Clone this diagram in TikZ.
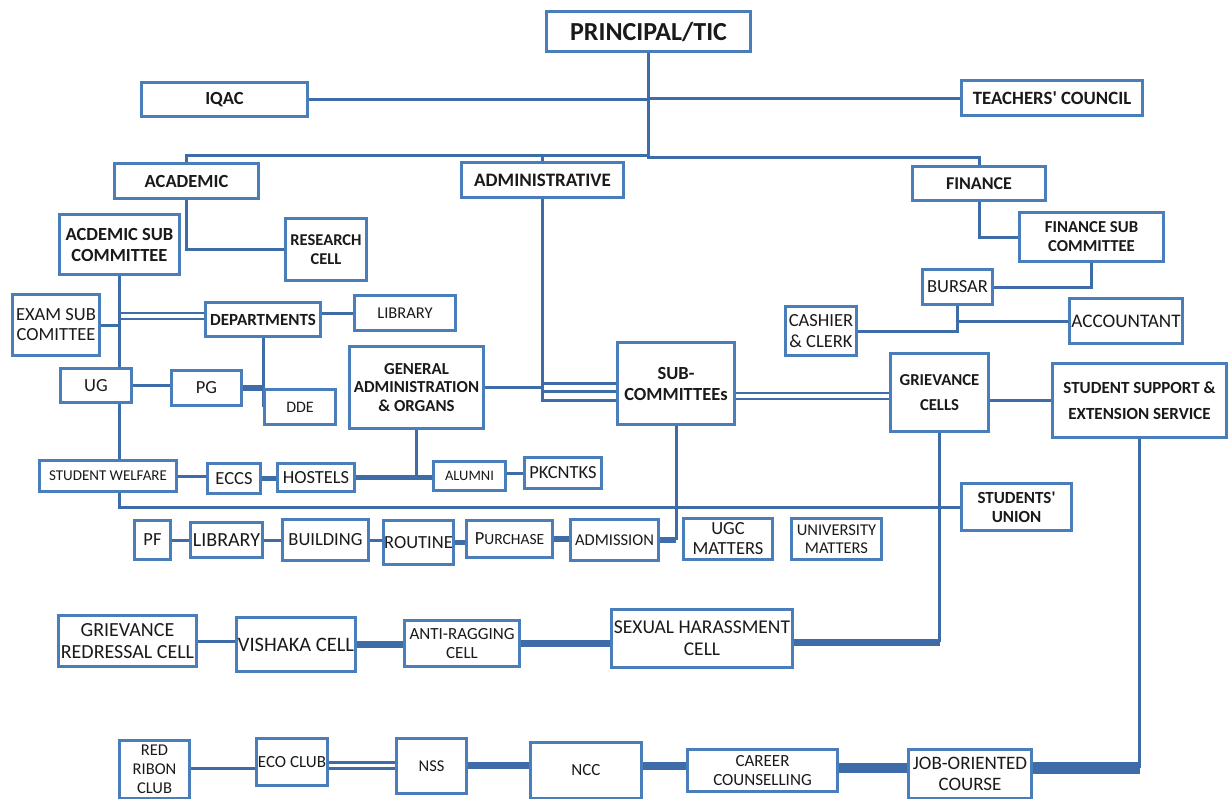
\documentclass[tikz,border=0pt]{standalone}
\usepackage{fontspec}
\setmainfont{Carlito}[Ligatures=TeXOff]
\usetikzlibrary{backgrounds}
\definecolor{boxblue}{RGB}{74,126,187}
\definecolor{lineblue}{RGB}{62,108,168}
\definecolor{txt}{RGB}{26,26,26}

\begin{document}
\begin{tikzpicture}[x=1pt,y=-1pt,
  bx/.style={draw=boxblue,line width=3pt,fill=white,text=txt,align=center,inner sep=1pt,
    font=\fontsize{18.5}{21}\selectfont},
  bxb/.style={bx,font=\fontsize{18.5}{21}\selectfont\bfseries},
  bxs/.style={bx,font=\fontsize{15}{18}\selectfont},
  sz/.style 2 args={minimum width=#1,minimum height=#2},
  ln/.style={draw=lineblue,line width=3pt},
  thk/.style={ln,line width=5.5pt},
  thkk/.style={ln,line width=7pt},
  hvy/.style={ln,line width=10pt},
  dbl/.style={draw=lineblue,line width=2.5pt,double=white,double distance=3.5pt}
]
\useasboundingbox (0,0) rectangle (1231,798);

\node[bxb,sz={204}{40},font=\fontsize{26}{28}\selectfont\bfseries] (prin) at (648.5,31.5) {PRINCIPAL/TIC};
\node[bxb,sz={166}{34}] (iqac) at (224.5,99.5) {IQAC};
\node[bxb,sz={181}{35},font=\fontsize{18.8}{21}\selectfont\bfseries] (tc) at (1052,98) {TEACHERS' COUNCIL};
\node[bxb,sz={144}{35}] (acad) at (186.5,181) {ACADEMIC};
\node[bxb,sz={162}{35},font=\fontsize{19}{21}\selectfont\bfseries] (admin) at (542.5,180) {ADMINISTRATIVE};
\node[bxb,sz={133}{34},font=\fontsize{18}{21}\selectfont\bfseries] (fin) at (979,183.5) {FINANCE};
\node[bxb,sz={120}{60}] (acsub) at (119.5,244.5) {ACDEMIC SUB\\COMMITTEE};
\node[bxb,sz={81}{62},font=\fontsize{16.5}{19}\selectfont\bfseries] (res) at (326,249.5) {RESEARCH\\CELL};
\node[bxb,sz={144}{49},font=\fontsize{16.7}{19}\selectfont\bfseries] (fsub) at (1091.5,237) {FINANCE SUB\\COMMITTEE};
\node[bx,sz={70}{35}] (bur) at (957.5,287) {BURSAR};
\node[bx,sz={71}{49}] (cash) at (821,331) {CASHIER\\\& CLERK};
\node[bx,sz={113}{45},font=\fontsize{19.2}{21}\selectfont] (acct) at (1126,321) {ACCOUNTANT};
\node[bx,sz={87}{61},font=\fontsize{18.5}{20}\selectfont] (exam) at (56,325) {EXAM SUB\\COMITTEE};
\node[bxb,sz={115}{34},font=\fontsize{17}{19}\selectfont\bfseries] (dept) at (263,319.5) {DEPARTMENTS};
\node[bx,sz={101}{35},font=\fontsize{16.5}{19}\selectfont] (lib1) at (405,313) {LIBRARY};
\node[bx,sz={71}{34}] (ug) at (96,385.5) {UG};
\node[bx,sz={70}{35}] (pg) at (206.5,388) {PG};
\node[bx,sz={71}{35},font=\fontsize{16}{19}\selectfont] (dde) at (300,407) {DDE};
\node[bxb,sz={134}{82},font=\fontsize{16.8}{18.5}\selectfont\bfseries] (ga) at (416.5,387.5) {GENERAL\\ADMINISTRATION\\\& ORGANS};
\node[bxs,sz={137}{31}] (sw) at (108,476) {STUDENT WELFARE};
\node[bx,sz={53}{30}] (ecc) at (234,478.5) {ECCS};
\node[bx,sz={77}{28}] (hos) at (316,477.5) {HOSTELS};
\node[bxs,sz={72}{29},font=\fontsize{14.5}{17}\selectfont] (alum) at (469.5,476) {ALUMNI};
\node[bx,sz={77}{31}] (pk) at (563,473) {PKCNTKS};
\node[bxb,sz={117}{82}] (sub) at (676,383.5) {SUB-\\COMMITTEEs};
\node[bxb,sz={98}{78},font=\fontsize{16.7}{25}\selectfont\bfseries] (griev) at (939.5,392.5) {GRIEVANCE\\CELLS};
\node[bxb,sz={174}{74},font=\fontsize{17}{26}\selectfont\bfseries] (sses) at (1139.5,400.5) {STUDENT SUPPORT \&\\EXTENSION SERVICE};
\node[bxb,sz={110}{47},font=\fontsize{17}{19}\selectfont\bfseries] (su) at (1016.5,507) {STUDENTS'\\UNION};

\node[bx,sz={36}{39}] (pf) at (152.5,540) {PF};
\node[bx,sz={72}{35},font=\fontsize{20}{22}\selectfont] (lib2) at (226.5,540) {LIBRARY};
\node[bx,sz={86}{41}] (bld) at (325.5,540) {BUILDING};
\node[bx,sz={70}{44}] (rout) at (418.5,542.5) {ROUTINE};
\node[bx,sz={86}{37}] (pur) at (509.5,539) {P{\fontsize{15.5}{18}\selectfont URCHASE}};
\node[bx,sz={88}{41},font=\fontsize{16.5}{19}\selectfont] (adm) at (614.5,540) {ADMISSION};
\node[bx,sz={89}{41},font=\fontsize{18.5}{20}\selectfont] (ugc) at (728,539) {UGC\\MATTERS};
\node[bx,sz={90}{41},font=\fontsize{16.5}{18}\selectfont] (univ) at (836.5,539) {UNIVERSITY\\MATTERS};

\node[bx,sz={138}{51},font=\fontsize{20}{22}\selectfont] (grc) at (127.5,641) {GRIEVANCE\\REDRESSAL CELL};
\node[bx,sz={119}{54},font=\fontsize{20.5}{23}\selectfont] (vis) at (296,644.5) {VISHAKA CELL};
\node[bx,sz={115}{46},font=\fontsize{17}{19}\selectfont] (anti) at (462,643.5) {ANTI-RAGGING\\CELL};
\node[bx,sz={181}{58},font=\fontsize{19.5}{22}\selectfont] (shc) at (702,638.5) {SEXUAL HARASSMENT\\CELL};

\node[bx,sz={70}{58},font=\fontsize{16.5}{19}\selectfont] (red) at (154.5,769.5) {RED\\RIBON\\CLUB};
\node[bx,sz={71}{47},font=\fontsize{17}{19}\selectfont] (eco) at (292,762) {ECO CLUB};
\node[bx,sz={70}{55},font=\fontsize{16.5}{19}\selectfont] (nss) at (431.5,766) {NSS};
\node[bx,sz={111}{56},font=\fontsize{17}{19}\selectfont] (ncc) at (586,770.5) {NCC};
\node[bx,sz={150}{42},font=\fontsize{17}{19}\selectfont] (car) at (762.5,770.5) {CAREER\\COUNSELLING};
\node[bx,sz={123}{49},font=\fontsize{19}{21}\selectfont] (job) at (970,774) {JOB-ORIENTED\\COURSE};

\coordinate (busL) at (648.5,155);
\coordinate (busR) at (648.5,157);
\coordinate (dd) at ([yshift=3.5pt]dept.west);
\coordinate (a2) at ([yshift=-8pt]sub.west);
\coordinate (a3) at ([yshift=-16.5pt]sub.west);
\coordinate (sg) at ([yshift=-3.5pt]griev.west);
\coordinate (sh) at ([yshift=-3.5pt]shc.east);
\coordinate (ch1) at (0,768);
\coordinate (ch2) at (0,765.5);

\begin{scope}[on background layer]
\draw[dbl] (dd) -- (dd -| acsub.south);
\draw[dbl] (sg) -- (sg -| sub.east);
\draw[dbl] (eco.east |- ch2) -- (nss.west |- ch2);
\draw[ln] (prin.south) -- (busR) -| (fin.north);
\draw[ln] (acad.north) |- (busL);
\draw[ln] (admin.north) -- (admin.north |- busL);
\draw[ln] (iqac.east) -- (iqac.east -| prin.south);
\draw[ln] (tc.west) -- (tc.west -| prin.south);
\draw[ln] (acad.south) |- (res.west);
\draw[ln] (acsub.south) -- (acsub.south |- sw.north);
\draw[ln] (exam.east) -- (exam.east -| acsub.south);
\draw[ln] (lib1.west) -- (lib1.west -| dept.east);
\draw[ln] (dept.south) -- (dept.south |- dde.west);
\draw[thk] (pg.east) -- (pg.east -| dept.south);
\draw[ln] (ug.east) -- (ug.east -| pg.west);
\draw[ln] (ga.east) -- (ga.east -| admin.south);
\draw[ln] (admin.south) |- (a3);
\draw[ln] (a2) -- (a2 -| admin.south);
\draw[ln] (sub.west) -- (sub.west -| admin.south);
\draw[ln] (sses.west) -- (sses.west -| griev.east);
\draw[ln] (ga.south) -- (ga.south |- alum.west);
\draw[thk] (hos.east) -- (hos.east -| alum.west);
\draw[ln] (sw.east) -- (sw.east -| ecc.west);
\draw[thk] (ecc.east) -- (ecc.east -| hos.west);
\draw[ln] (pk.west) -- (pk.west -| alum.east);
\draw[ln] (sw.south -| acsub.south) |- (su.west);
\draw[ln] (fin.south) |- (fsub.west);
\draw[ln] (fsub.south) |- (bur.east);
\draw[ln] (bur.south) |- (cash.east);
\draw[ln] (bur.south) |- (acct.west);
\draw[ln] (sub.south) -- (sub.south |- adm.east);
\draw[thk] (adm.east) -- (adm.east -| sub.south);
\draw[ln] (pf.east) -- (pf.east -| lib2.west);
\draw[ln] (lib2.east) -- (lib2.east -| bld.west);
\draw[ln] (bld.east) -- (bld.east -| rout.west);
\draw[thk] (rout.east) -- (rout.east -| pur.west);
\draw[thk] (pur.east) -- (pur.east -| adm.west);
\draw[ln] (griev.south) -- (griev.south |- sh);
\draw[thkk] (sh) -- (sh -| griev.south);
\draw[ln] (grc.east) -- (grc.east -| vis.west);
\draw[thkk] (vis.east) -- (vis.east -| anti.west);
\draw[thkk] (anti.east) -- (anti.east -| shc.west);
\draw[ln] (red.east |- ch1) -- (eco.west |- ch1);
\draw[thkk] (nss.east |- ch2) -- (ncc.west |- ch2);
\draw[thkk,line width=8pt] (ncc.east |- ch2) -- (car.west |- ch2);
\draw[hvy] (car.east |- ch1) -- (job.west |- ch1);
\draw[ln] (sses.south) -- (sses.south |- ch1);
\draw[ln,line width=12pt] (job.east |- ch1) -- (sses.south |- ch1);
\end{scope}
\end{tikzpicture}
\end{document}
